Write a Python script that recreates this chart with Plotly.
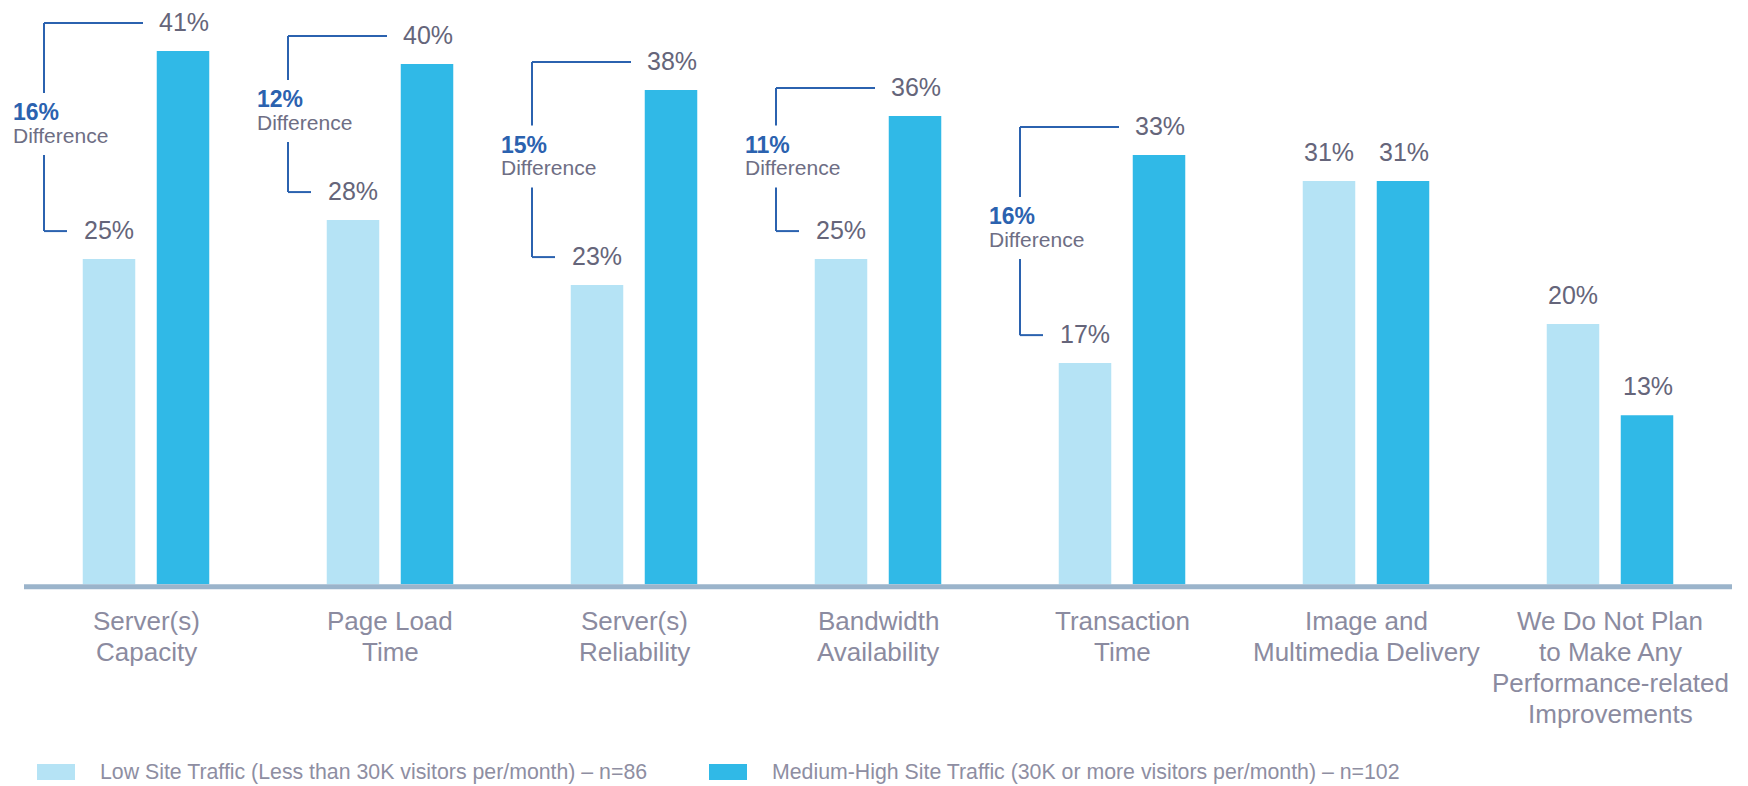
import plotly.graph_objects as go

# --- data -------------------------------------------------------------
categories = [
    "Server(s)<br>Capacity",
    "Page Load<br>Time",
    "Server(s)<br>Reliability",
    "Bandwidth<br>Availability",
    "Transaction<br>Time",
    "Image and<br>Multimedia Delivery",
    "We Do Not Plan<br>to Make Any<br>Performance-related<br>Improvements",
]
low_traffic = [25, 28, 23, 25, 17, 31, 20]
high_traffic = [41, 40, 38, 36, 33, 31, 13]
series_names = [
    "Low Site Traffic (Less than 30K visitors per/month) \u2013 n=86",
    "Medium-High Site Traffic (30K or more visitors per/month) \u2013 n=102",
]
# groups that get a "difference" bracket
bracket_groups = [0, 1, 2, 3, 4]

# --- styling ----------------------------------------------------------
FONT = "Liberation Sans, Arial, sans-serif"
LOW_COLOR = "#B5E3F5"
HIGH_COLOR = "#30B9E7"
VALUE_COLOR = "#65657A"
TICK_COLOR = "#8B8BA0"
LEGEND_COLOR = "#8E8EA2"
BRACKET_COLOR = "#2B62AF"
AXIS_COLOR = "#9BB4CB"

W, H = 1748, 786
ML, MR, MT, MB = 24, 16, 12, 194
Y_RANGE = [-0.6, 44]
PLOT_W = W - ML - MR
PLOT_H = H - MT - MB
PX_PER_UNIT = PLOT_H / (Y_RANGE[1] - Y_RANGE[0])
GROUP_PX = PLOT_W / len(categories)
BAR_OFFSET = 37.5 / GROUP_PX          # bar centre offset from group centre
LABEL_LIFT = 28                       # value label centre above bar top (px)

x_idx = list(range(len(categories)))

fig = go.Figure()
fig.add_trace(go.Bar(x=x_idx, y=low_traffic, name=series_names[0],
                     marker=dict(color=LOW_COLOR, line=dict(width=0)),
                     showlegend=False))
fig.add_trace(go.Bar(x=x_idx, y=high_traffic, name=series_names[1],
                     marker=dict(color=HIGH_COLOR, line=dict(width=0)),
                     showlegend=False))

annotations = []
shapes = []

# value labels above the bars
for i in x_idx:
    for val, off in ((low_traffic[i], -BAR_OFFSET), (high_traffic[i], BAR_OFFSET)):
        annotations.append(dict(
            x=i + off, y=val, xref="x", yref="y", text=f"{val}%",
            showarrow=False, yshift=LABEL_LIFT + 1, yanchor="middle",
            font=dict(family=FONT, size=25, color=VALUE_COLOR)))

# category labels under the axis, one annotation per line
for i, cat in enumerate(categories):
    for k, line in enumerate(cat.split("<br>")):
        annotations.append(dict(
            x=i, y=0, xref="x", yref="y", text=line, showarrow=False,
            yanchor="middle", yshift=-37 - 31 * k,
            font=dict(family=FONT, size=26, color=TICK_COLOR)))

# difference brackets
line_style = dict(color=BRACKET_COLOR, width=2)
for i in bracket_groups:
    lo, hi = low_traffic[i], high_traffic[i]
    mid = (lo + hi) / 2
    half_span = (hi - lo) / 2 * PX_PER_UNIT
    text_c = LABEL_LIFT + 3          # text block centre relative to mid (px)
    gap = 31
    common = dict(type="line", xref="x", yref="y", xsizemode="pixel",
                  ysizemode="pixel", xanchor=i, line=line_style)
    # top horizontal, bottom horizontal
    shapes.append(dict(common, yanchor=hi, x0=-102, x1=-3,
                       y0=LABEL_LIFT, y1=LABEL_LIFT))
    shapes.append(dict(common, yanchor=lo, x0=-102, x1=-79,
                       y0=LABEL_LIFT, y1=LABEL_LIFT))
    # vertical pieces, interrupted by the text block
    shapes.append(dict(common, yanchor=mid, x0=-102, x1=-102,
                       y0=half_span + LABEL_LIFT, y1=text_c + gap))
    shapes.append(dict(common, yanchor=mid, x0=-102, x1=-102,
                       y0=-half_span + LABEL_LIFT, y1=text_c - gap))
    annotations.append(dict(
        x=i, y=mid, xref="x", yref="y", xshift=-135, xanchor="left",
        yanchor="middle", yshift=text_c + 12, showarrow=False,
        text=f"<b>{hi - lo}%</b>",
        font=dict(family=FONT, size=23, color=BRACKET_COLOR)))
    annotations.append(dict(
        x=i, y=mid, xref="x", yref="y", xshift=-135, xanchor="left",
        yanchor="middle", yshift=text_c - 11, showarrow=False,
        text="Difference",
        font=dict(family=FONT, size=21, color="#6E6E84")))

# baseline
shapes.append(dict(type="line", xref="paper", x0=0, x1=1, yref="y",
                   ysizemode="pixel", yanchor=0, y0=-2.5, y1=-2.5,
                   line=dict(color=AXIS_COLOR, width=5)))


def px_x(px):
    return (px - ML) / PLOT_W


def px_y(py):
    return (H - MB - py) / PLOT_H


# legend drawn as swatches + labels
for name, color, sx, tx in ((series_names[0], LOW_COLOR, 37, 98),
                            (series_names[1], HIGH_COLOR, 709, 770)):
    shapes.append(dict(type="rect", xref="paper", yref="paper",
                       x0=px_x(sx), x1=px_x(sx + 38),
                       y0=px_y(780), y1=px_y(764),
                       fillcolor=color, line=dict(width=0)))
    annotations.append(dict(
        xref="paper", yref="paper", x=px_x(tx), y=px_y(772),
        xanchor="left", yanchor="middle", showarrow=False, text=name,
        font=dict(family=FONT, size=21.3, color=LEGEND_COLOR)))

fig.update_layout(
    width=W, height=H,
    margin=dict(l=ML, r=MR, t=MT, b=MB, pad=0),
    paper_bgcolor="white", plot_bgcolor="white",
    barmode="group", bargap=0.3934, bargroupgap=0.2905,
    xaxis=dict(range=[-0.5, len(categories) - 0.5], showticklabels=False,
               showgrid=False, zeroline=False, showline=False, fixedrange=True),
    yaxis=dict(range=Y_RANGE, visible=False, showgrid=False, zeroline=False,
               fixedrange=True),
    shapes=shapes,
    annotations=annotations,
    showlegend=False,
)

fig.write_html("out.html")
